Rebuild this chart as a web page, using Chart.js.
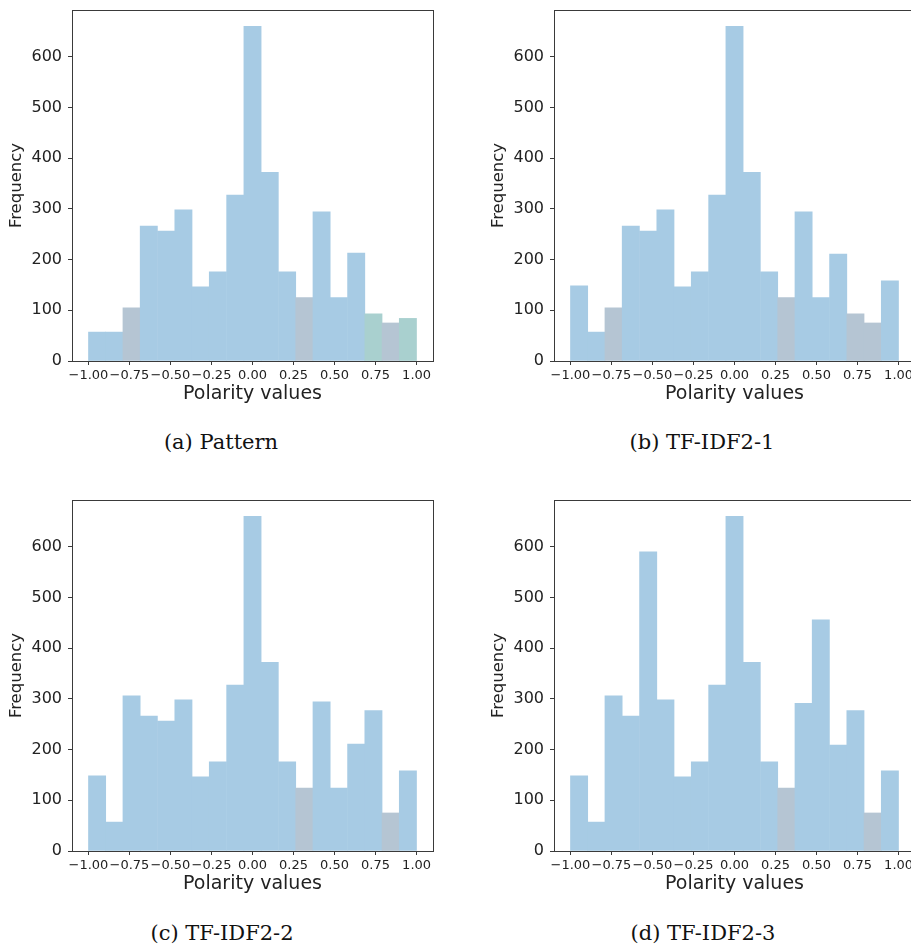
<!DOCTYPE html>
<html>
<head>
<meta charset="utf-8">
<script src="https://cdn.jsdelivr.net/npm/chart.js@4"></script>
<style>
  html, body { margin: 0; padding: 0; background: #fff; }
  body { width: 911px; height: 947px; position: relative; overflow: hidden; }
  .panel { position: absolute; width: 455px; height: 420px; }
  .caption {
    position: absolute; width: 300px; text-align: center;
    font-family: "DejaVu Serif", serif; font-size: 21px; color: #111;
    line-height: 24px;
  }
</style>
</head>
<body>
<div class="panel" style="left:0;top:0"><canvas id="chartA" width="455" height="420"></canvas></div>
<div class="panel" style="left:482px;top:0"><canvas id="chartB" width="455" height="420"></canvas></div>
<div class="panel" style="left:0;top:490px"><canvas id="chartC" width="455" height="420"></canvas></div>
<div class="panel" style="left:482px;top:490px"><canvas id="chartD" width="455" height="420"></canvas></div>

<div class="caption" style="left:71px;top:430px">(a) Pattern</div>
<div class="caption" style="left:552px;top:430px">(b) TF-IDF2-1</div>
<div class="caption" style="left:72px;top:921px">(c) TF-IDF2-2</div>
<div class="caption" style="left:553px;top:921px">(d) TF-IDF2-3</div>

<script>
// 19 equal-width bins over [-1, 1]; centres of each bin
const binCenters = [-0.947, -0.842, -0.737, -0.632, -0.526, -0.421, -0.316, -0.211, -0.105, 0,
                    0.105, 0.211, 0.316, 0.421, 0.526, 0.632, 0.737, 0.842, 0.947];

const xTicks = [-1, -0.75, -0.5, -0.25, 0, 0.25, 0.5, 0.75, 1];
const yTicks = [0, 100, 200, 300, 400, 500, 600];

// frequency counts per bin
const patternCounts = [57, 57, 105, 266, 256, 298, 146, 176, 327, 660, 372, 176, 125, 294, 125, 213, 93, 75, 84];
const tfidf21Counts = [148, 57, 105, 266, 256, 298, 146, 176, 327, 660, 372, 176, 125, 294, 125, 211, 93, 75, 158];
const tfidf22Counts = [148, 57, 306, 266, 256, 298, 146, 176, 327, 660, 372, 176, 124, 294, 124, 211, 277, 75, 158];
const tfidf23Counts = [148, 57, 306, 266, 590, 298, 146, 176, 327, 660, 372, 176, 124, 291, 456, 209, 277, 75, 158];

const BLUE = '#a7cbe4';
const GREY = '#b5c5d3';
const GREEN = '#a9d0cf';

// a few bins show the overlapped (greyish) tint
const patternTint = { 2: GREY, 12: GREY, 16: GREEN, 17: GREY, 18: GREEN };
const tfidf21Tint = { 2: GREY, 12: GREY, 16: GREY, 17: GREY };
const tfidf22Tint = { 12: GREY, 17: GREY };
const tfidf23Tint = { 12: GREY, 17: GREY };

function fmtTick(v) {
  const s = Math.abs(v).toFixed(2);
  return v < 0 ? '\u2212' + s : s;
}

// draws the full axes box like a matplotlib frame
const frameBox = {
  id: 'frameBox',
  afterDatasetsDraw(chart) {
    const a = chart.chartArea;
    const ctx = chart.ctx;
    ctx.save();
    ctx.strokeStyle = '#3a3a3a';
    ctx.lineWidth = 1;
    ctx.strokeRect(Math.round(a.left) + 0.5, Math.round(a.top) + 0.5,
                   Math.round(a.right - a.left), Math.round(a.bottom - a.top));
    ctx.restore();
  }
};

function makeHist(id, counts, tint) {
  const ctx = document.getElementById(id);
  new Chart(ctx, {
    type: 'bar',
    data: {
      datasets: [{
        data: binCenters.map((c, i) => ({ x: c, y: counts[i] })),
        backgroundColor: counts.map((_, i) => tint[i] || BLUE),
        borderWidth: 0,
        barPercentage: 1,
        categoryPercentage: 1
      }]
    },
    options: {
      responsive: false,
      animation: false,
      devicePixelRatio: 1,
      layout: { padding: { top: 10, right: 22, left: 0, bottom: 0 } },
      plugins: { legend: { display: false }, tooltip: { enabled: false } },
      scales: {
        x: {
          type: 'linear',
          min: -1.1,
          max: 1.1,
          offset: false,
          afterBuildTicks: s => { s.ticks = xTicks.map(v => ({ value: v })); },
          afterFit: s => { s.height = 59; },
          border: { display: false },
          grid: { offset: false, drawOnChartArea: false, drawTicks: true, tickLength: 4, color: '#3a3a3a' },
          ticks: {
            maxRotation: 0,
            autoSkip: false,
            padding: 3,
            color: '#222',
            font: { family: 'DejaVu Sans', size: 13 },
            callback: v => fmtTick(v)
          },
          title: {
            display: true,
            text: 'Polarity values',
            color: '#222',
            font: { family: 'DejaVu Sans', size: 19 },
            padding: { top: 0, bottom: 15 }
          }
        },
        y: {
          min: 0,
          max: 692,
          afterBuildTicks: s => { s.ticks = yTicks.map(v => ({ value: v })); },
          afterFit: s => { s.width = 72; },
          border: { display: false },
          grid: { drawOnChartArea: false, drawTicks: true, tickLength: 4, color: '#3a3a3a' },
          ticks: {
            padding: 6,
            color: '#222',
            font: { family: 'DejaVu Sans', size: 16, lineHeight: 0.5 }
          },
          title: {
            display: true,
            text: 'Frequency',
            color: '#222',
            font: { family: 'DejaVu Sans', size: 16.5 },
            padding: { top: 7, bottom: 0 }
          }
        }
      }
    },
    plugins: [frameBox]
  });
}

makeHist('chartA', patternCounts, patternTint);
makeHist('chartB', tfidf21Counts, tfidf21Tint);
makeHist('chartC', tfidf22Counts, tfidf22Tint);
makeHist('chartD', tfidf23Counts, tfidf23Tint);
</script>
</body>
</html>
